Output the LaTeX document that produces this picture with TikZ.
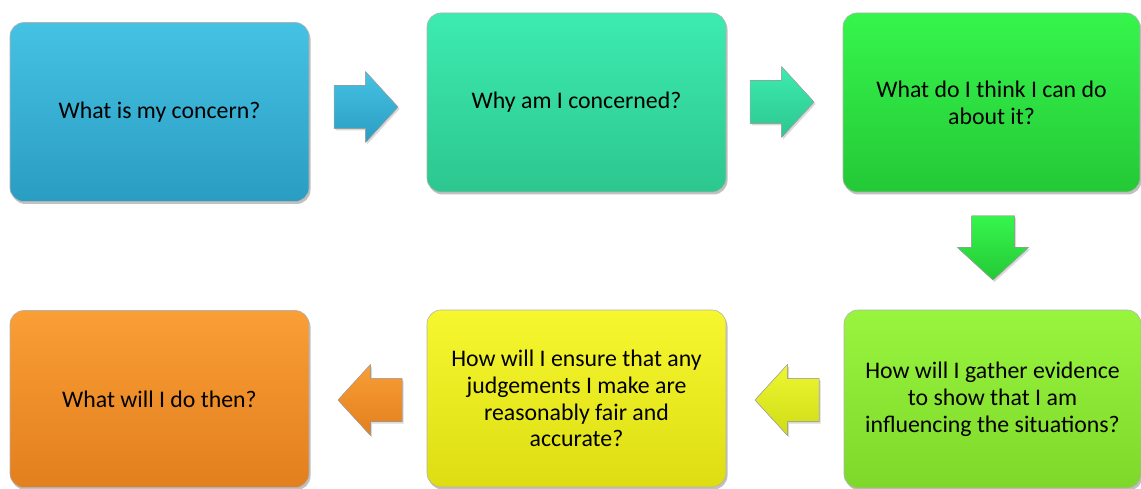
\documentclass[tikz,border=0pt]{standalone}
\usepackage{fontspec}
\setmainfont{Carlito}
\usetikzlibrary{shadows}
\definecolor{bluetop}{HTML}{45C2E3}
\definecolor{bluebot}{HTML}{2A9DC2}
\definecolor{tealtop}{HTML}{3DEBB0}
\definecolor{tealbot}{HTML}{2CC78F}
\definecolor{greentop}{HTML}{36F54C}
\definecolor{greenbot}{HTML}{24C936}
\definecolor{limetop}{HTML}{98F53E}
\definecolor{limebot}{HTML}{7ED82A}
\definecolor{yeltop}{HTML}{F7F730}
\definecolor{yelbot}{HTML}{DDDD12}
\definecolor{orgtop}{HTML}{FA9E36}
\definecolor{orgbot}{HTML}{E27F1E}
\tikzset{
  x=1pt, y=-1pt,
  qbox/.style={rounded corners=14pt, minimum width=299pt, minimum height=179pt,
    inner sep=0pt, align=center, text=black,
    font=\fontsize{23.8}{26.8}\selectfont,
    drop shadow={shadow xshift=1.5pt, shadow yshift=-2.5pt, opacity=0.35, fill=black!70},
    draw=black!30, line width=0.6pt},
  boxcol/.style 2 args={top color=#1, bottom color=#2},
  pics/blockarrow/.style 2 args={code={
    \filldraw[draw=black!35, line width=0.5pt, top color=#1, bottom color=#2,
      drop shadow={shadow xshift=1.5pt, shadow yshift=-2pt, opacity=0.3}]
      (0,0) -- (-32.5,-35.5) -- (-32.5,-21.5) -- (-64,-21.5) -- (-64,21.5)
      -- (-32.5,21.5) -- (-32.5,35.5) -- cycle;
  }}
}
\begin{document}
\begin{tikzpicture}
\useasboundingbox (0,0) rectangle (1141,489);
% boxes
\node[qbox, boxcol={bluetop}{bluebot}] (b1) at (159.5,112) {What is my concern?};
\node[qbox, boxcol={tealtop}{tealbot}] (b2) at (576.5,102.5) {Why am I concerned?};
\node[qbox, boxcol={greentop}{greenbot}, minimum width=297pt] (b3) at (991.5,102.5) {What do I think I can do\\about it?};
\node[qbox, boxcol={limetop}{limebot}, minimum width=297pt, minimum height=178pt] (b4) at (992.5,399) {How will I gather evidence\\to show that I am\\influencing the situations?};
\node[qbox, boxcol={yeltop}{yelbot}, minimum height=177pt] (b5) at (576.5,398.5) {How will I ensure that any\\judgements I make are\\reasonably fair and\\accurate?};
\node[qbox, boxcol={orgtop}{orgbot}, minimum height=177pt] (b6) at (159.5,399) {What will I do then?};
% block arrows
\pic at (398,107) {blockarrow={bluetop}{bluebot}};
\pic at (814,102) {blockarrow={tealtop}{tealbot}};
\pic[rotate=-90] at (993,280) {blockarrow={greentop}{greenbot}};
\pic[rotate=180] at (755,400) {blockarrow={yeltop!90!limetop}{yelbot!85!limebot}};
\pic[rotate=180] at (338,400) {blockarrow={orgtop}{orgbot}};
\end{tikzpicture}
\end{document}
